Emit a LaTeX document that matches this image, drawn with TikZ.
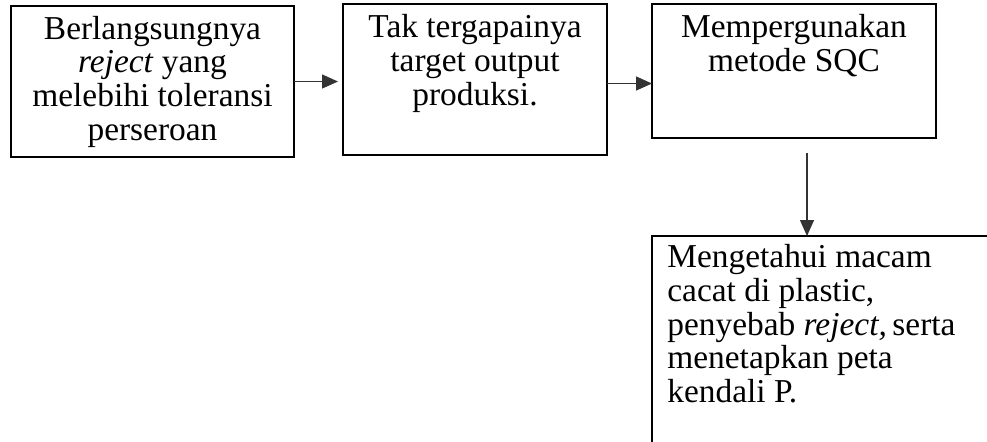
\documentclass[tikz,border=0pt]{standalone}
\usepackage{fontspec}
\setmainfont{Liberation Serif}
\usepackage{tikz}
\usetikzlibrary{calc, arrows.meta}

\begin{document}
\begin{tikzpicture}[x=0.5pt, y=-0.5pt,
    kotak/.style={draw, line width=0.55pt, inner sep=0pt, outer sep=0pt, anchor=north west},
    isi/.style={inner sep=0pt, anchor=north, align=center,
      font=\fontsize{16.7}{16.9}\selectfont},
    panah/.style={-{Triangle[length=8pt, width=7pt]}, line width=0.65pt, black!80}]
  \useasboundingbox (0,0) rectangle (987,441);
  \clip (0,0) rectangle (987,441);
  % Kotak-kotak
  \node[kotak, minimum width=141.5pt, minimum height=75.5pt] (b1) at (11,6) {};
  \node[kotak, minimum width=132pt, minimum height=75.5pt] (b2) at (343,4) {};
  \node[kotak, minimum width=142pt, minimum height=67pt] (b3) at (652,4) {};
  \node[kotak, minimum width=170pt, minimum height=130pt] (b4) at (652,236) {};
  % Teks
  \node[isi] (t1) at ([yshift=-4.8pt]b1.north)
    {Berlangsungnya\\\textit{reject} yang\\melebihi toleransi\\perseroan};
  \node[isi] (t2) at ([yshift=-5pt]b2.north)
    {Tak tergapainya\\target output\\produksi.};
  \node[isi] (t3) at ([yshift=-5pt]b3.north)
    {Mempergunakan\\metode SQC};
  \node[isi, anchor=north west, align=left] (t4) at ([xshift=7.5pt, yshift=-4pt]b4.north west)
    {Mengetahui macam\\cacat di plastic,\\penyebab \textit{reject,}\,serta\\menetapkan peta\\kendali P.};
  % Panah
  \draw[panah, shorten >=2.5pt] (b1.east) -- (b1.east -| b2.west);
  \draw[panah] ([yshift=-2pt]b2.east) -- ([yshift=-2pt]b2.east -| b3.west);
  \coordinate (d) at ([xshift=6.5pt]b3.south);
  \draw[panah] ([yshift=-7.5pt]d) -- (d |- b4.north);
\end{tikzpicture}
\end{document}
